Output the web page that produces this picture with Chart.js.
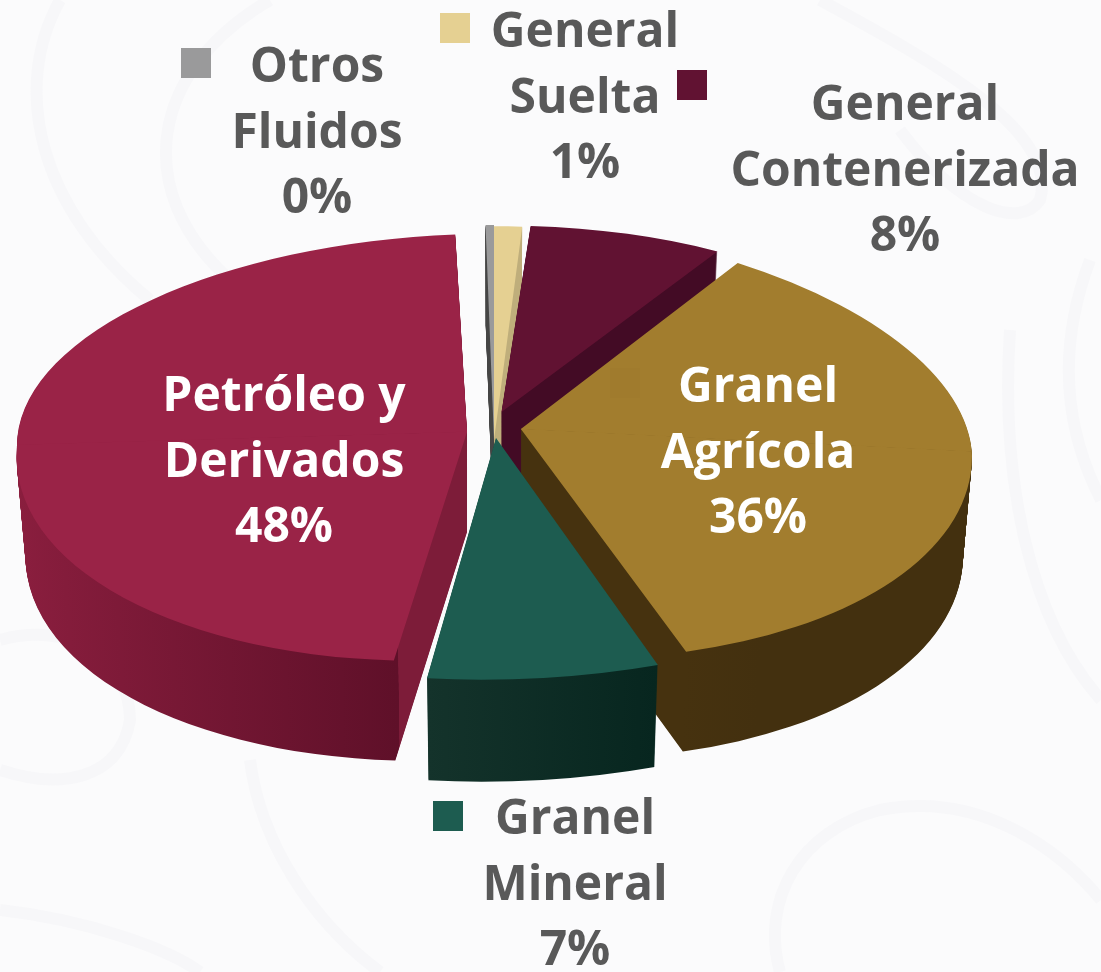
<!DOCTYPE html>
<html lang="es">
<head>
<meta charset="utf-8">
<title>Carga</title>
<script src="https://cdn.jsdelivr.net/npm/chart.js@4"></script>
<style>
html,body{margin:0;padding:0;background:#fbfbfc;width:1101px;height:972px;overflow:hidden}
#bg{position:absolute;left:0;top:0}
#c{position:absolute;left:0;top:0}
</style>
</head>
<body>
<svg id="bg" width="1101" height="972" fill="none" stroke="#f7f7f9" stroke-width="12">
<path d="M60 0C10 90 40 210 150 300M270 0C150 70 130 190 230 280"/>
<path d="M820 0C930 60 1060 130 1040 200C1020 230 960 210 900 130"/>
<path d="M1010 330C1000 480 1030 620 1101 700M1090 260C1060 340 1060 420 1101 500"/>
<path d="M0 640C70 620 130 660 130 720C120 780 60 790 0 770M0 910C90 920 170 950 200 972"/>
<path d="M780 972C760 900 800 830 880 810C980 790 1060 850 1101 900M250 760C260 840 310 920 380 972"/>
</svg>
<canvas id="c" width="1101" height="972"></canvas>
<script>
const categories = ['Otros Fluidos','General Suelta','General Contenerizada','Granel Agrícola','Granel Mineral','Petróleo y Derivados'];
const labelLines = [['Otros','Fluidos'],['General','Suelta'],['General','Contenerizada'],['Granel','Agrícola'],['Granel','Mineral'],['Petróleo y','Derivados']];
const values = [0.3,1.0,7.6,35.8,7.3,48.0];
const topColors = ['#9a9a9b','#e5d092','#611232','#a27d2e','#1d5c50','#9a2347'];
const explode = [0,0,128,116,0,100];

// Look of each slice: rim size, apex offset, tilt above/below the apex, shear and lean, thickness colours
const looks = [
 {rim:450,dx:2,ay:440,up:.478,down:.478,shear:0,leanUp:0,leanDown:0,depth:100,side:[[0,'#454545'],[1,'#454545']]},
 {rim:450,dx:2,ay:440,up:.475,down:.475,shear:0,leanUp:0,leanDown:0,depth:100,side:[[0,'#bfae7b'],[1,'#bfae7b']]},
 {rim:424,dx:0,ay:412,up:.44,down:.45,shear:0,leanUp:0,leanDown:0,depth:100,side:[[0,'#430b25'],[1,'#430b25']]},
 {rim:451,dx:0,ay:429,up:.46,down:.508,shear:.05,leanUp:.0415,leanDown:.021,depth:100,side:[[0,'#46320f'],[1,'#43300f']]},
 {rim:510,dx:4,ay:438,up:.474,down:.474,shear:0,leanUp:0,leanDown:-.029,depth:102,side:[[0,'#14332b'],[1,'#07261f']]},
 {rim:450,dx:0,ay:432,up:.44,down:.508,shear:-.029,leanUp:0,leanDown:-.049,depth:100,fromRim:true,side:[[0,'#8a1e3e'],[.999,'#5f1029'],[.9991,'#7d1c39'],[1,'#7d1c39']]}
];
const drawOrder = [0,1,2,5,3,4];
const shrink = 0.02;

const labelSpots = [
 {x:317,y:82,color:'#595959'},{x:585,y:47,color:'#595959'},{x:905,y:120,color:'#595959'},
 {x:758,y:402,color:'#ffffff'},{x:575,y:834,color:'#595959'},{x:284,y:411,color:'#ffffff'}
];
const keySpots = [
 {x:181,y:48,c:'#9a9a9b'},{x:440,y:13,c:'#e5d092'},{x:677,y:70,c:'#611232'},
 {x:610,y:368,c:'#a07b2d'},{x:433,y:801,c:'#1d5c50'},null
];

function paintSlice(ctx, el, look, main){
  const o = el.options, off = (o.offset||0)/4, circ = el.circumference;
  const fix = 1 - Math.sin(Math.min(Math.PI, circ));
  const eff = el.outerRadius + off*fix;
  const scale = look.rim/eff;
  const mid = (el.startAngle+el.endAngle)/2;
  const ox = Math.cos(mid)*off, oy = Math.sin(mid)*off;
  const bx = el.x+ox, by = el.y+oy, ax = bx+look.dx;
  // the arc adds its own offset before filling, so the gradient lives in the arc's local space
  const gx0 = look.fromRim ? el.x-eff : el.x+eff*Math.cos(el.endAngle);
  const gx1 = el.x+eff*Math.cos(el.startAngle);
  const g = ctx.createLinearGradient(Math.min(gx0,gx1-1),0,gx1,0);
  look.side.forEach(s=>g.addColorStop(s[0],s[1]));
  const saved = el.options;
  const withColor = c => { const n = Object.create(saved); Object.defineProperty(n,'backgroundColor',{value:c}); return n; };
  const stamp = (d,fill) => {
    const a = scale*(1-shrink*d/look.depth);
    el.options = withColor(fill);
    [[look.up,look.leanUp,-6000,by+0.6+6000],[look.down,look.leanDown,by-0.6,6000]].forEach(h=>{
      ctx.save();
      ctx.translate(ax,look.ay+d);
      ctx.transform(a,look.shear*a,h[1]*a,h[0]*scale,0,0);
      ctx.translate(-bx,-by);
      ctx.beginPath();
      ctx.rect(-6000,h[2],12000,h[3]);
      ctx.clip();
      el.draw(ctx);
      ctx.restore();
    });
  };
  for(let d=look.depth;d>=1;d--) stamp(d,g);
  stamp(0,main);
  el.options = saved;
}

const pie3d = {
  id:'pie3d',
  beforeDatasetsDraw(chart){
    const ctx = chart.ctx, arcs = chart.getDatasetMeta(0).data;
    drawOrder.forEach(i=>paintSlice(ctx,arcs[i],looks[i],topColors[i]));
    return false;
  },
  afterDraw(chart){
    const ctx = chart.ctx, total = values.reduce((a,b)=>a+b,0);
    ctx.save();
    keySpots.forEach(k=>{ if(k){ctx.fillStyle=k.c;ctx.fillRect(k.x,k.y,30,30);} });
    ctx.font='bold 48px "Open Sans"';
    ctx.textAlign='center';ctx.textBaseline='alphabetic';
    values.forEach((v,i)=>{
      const s=labelSpots[i];
      const lines=[...labelLines[i],Math.round(v/total*100)+'%'];
      ctx.fillStyle=s.color;
      lines.forEach((t,j)=>ctx.fillText(t,s.x,s.y+j*65.7));
    });
    ctx.restore();
  }
};

new Chart(document.getElementById('c'),{
  type:'pie',
  data:{labels:categories,datasets:[{data:values,backgroundColor:topColors,offset:explode,borderWidth:0,radius:450}]},
  options:{
    responsive:false,animation:false,rotation:-1.08,
    radius:450,
    layout:{padding:{left:0,right:117,top:0,bottom:0}},
    plugins:{legend:{display:false},tooltip:{enabled:false}},
    events:[]
  },
  plugins:[pie3d]
});
</script>
</body>
</html>
